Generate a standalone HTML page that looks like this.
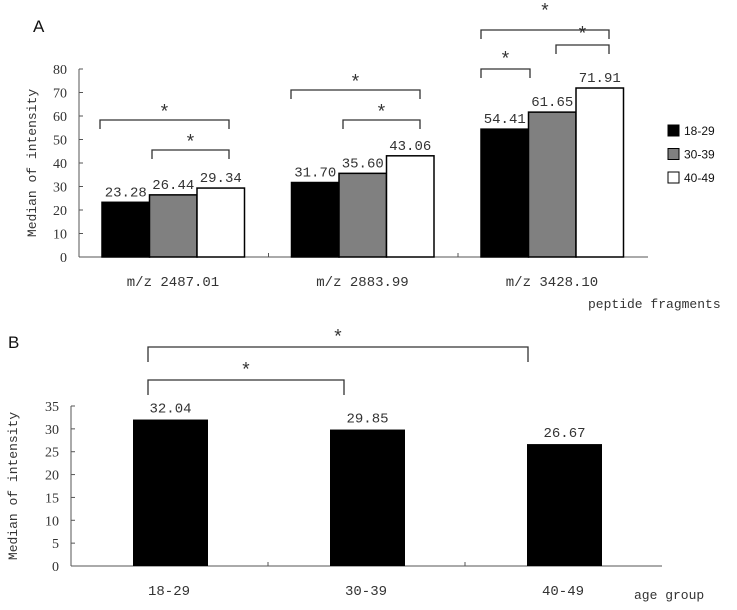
<!DOCTYPE html>
<html><head><meta charset="utf-8"><style>
body{margin:0;background:#fff}
svg text{font-family:"Liberation Mono","DejaVu Sans Mono",monospace;fill:#333}
</style></head><body>
<svg width="737" height="605" xmlns="http://www.w3.org/2000/svg">
<g id="A"></g>
<g id="B"></g>
</svg>
<script>
const catsA=["m/z 2487.01","m/z 2883.99","m/z 3428.10"];
const s1829=[23.28,31.70,54.41];
const s3039=[26.44,35.60,61.65];
const s4049=[29.34,43.06,71.91];
const ticksA=[0,10,20,30,40,50,60,70,80];
const catsB=["18-29","30-39","40-49"];
const valsB=[32.04,29.85,26.67];
const ticksB=[0,5,10,15,20,25,30,35];
const NS="http://www.w3.org/2000/svg";
function mk(p,t,a,txt){const e=document.createElementNS(NS,t);for(const k in a)e.setAttribute(k,a[k]);if(txt!==undefined)e.textContent=txt;p.appendChild(e);return e;}
const A=document.getElementById('A'),B=document.getElementById('B');
// Panel A
const yA=v=>257-v*(188/80);
const bandA=i=>79+i*189.5;
let e=mk(A,'text',{x:33,y:32,style:'font-family:Liberation Sans;font-size:17px;fill:#111'},'A');

e=mk(A,'line',{x1:79,y1:yA(80),x2:79,y2:257,stroke:'#555'});

e=mk(A,'line',{x1:79,y1:257,x2:648,y2:257,stroke:'#555'});

ticksA.forEach(t=>{mk(A,'line',{x1:79,y1:yA(t),x2:83,y2:yA(t),stroke:'#555'});
 e=mk(A,'text',{x:67,y:yA(t)+5,'text-anchor':'end','font-size':'14',style:'font-family:Liberation Serif'},t);
 });
[1,2].forEach(i=>mk(A,'line',{x1:bandA(i),y1:253,x2:bandA(i),y2:257,stroke:'#555'}));
e=mk(A,'text',{transform:'translate(36,163) rotate(-90)','text-anchor':'middle','font-size':'13'},'Median of intensity');

const series=[[s1829,'#000'],[s3039,'#808080'],[s4049,'#fff']];
catsA.forEach((c,i)=>{
 series.forEach(([s,f],j)=>{const x=bandA(i)+23+j*47.5;
  e=mk(A,'rect',{x:x,y:yA(s[i]),width:47.5,height:257-yA(s[i]),fill:f,stroke:'#000','stroke-width':1.5});
  
  e=mk(A,'text',{x:x+23.75,y:yA(s[i])-6,'text-anchor':'middle','font-size':'14'},s[i].toFixed(2));
  });
 e=mk(A,'text',{x:bandA(i)+94,y:286,'text-anchor':'middle','font-size':'14'},c);
 });
e=mk(A,'text',{x:588,y:308,'font-size':'13'},'peptide fragments');

function bracket(g,x1,x2,y,d,sy){mk(g,'path',{d:`M${x1},${y+d}V${y}H${x2}V${y+d}`,fill:'none',stroke:'#333','stroke-width':1.3});
 e=mk(g,'text',{x:(x1+x2)/2,y:sy+3,'text-anchor':'middle','font-size':'19'},'*');
 }
bracket(A,100,229,120,9,115);bracket(A,152,229,150,9,145);
bracket(A,291,420,90,9,85);bracket(A,343,420,120,9,115);
bracket(A,481,609,30,9,14);bracket(A,481,530,69,9,62);bracket(A,556,609,45,9,37);
[["18-29",'#000'],["30-39",'#808080'],["40-49",'#fff']].forEach(([l,f],j)=>{
 const y=125+j*23.5;
 e=mk(A,'rect',{x:668,y:y,width:11,height:11,fill:f,stroke:'#000'});
 
 e=mk(A,'text',{x:684,y:y+10,'font-size':'12',style:'font-family:Liberation Sans;fill:#111'},l);
 });
// Panel B
const yB=v=>566-v*(160/35);
const bandB=i=>71+i*197;
e=mk(B,'text',{x:8,y:348,style:'font-family:Liberation Sans;font-size:17px;fill:#111'},'B');

e=mk(B,'line',{x1:71,y1:yB(35),x2:71,y2:566,stroke:'#555'});

e=mk(B,'line',{x1:71,y1:566,x2:662,y2:566,stroke:'#555'});

ticksB.forEach(t=>{mk(B,'line',{x1:71,y1:yB(t),x2:75,y2:yB(t),stroke:'#555'});
 e=mk(B,'text',{x:59,y:yB(t)+5,'text-anchor':'end','font-size':'14',style:'font-family:Liberation Serif'},t);
 });
[1,2].forEach(i=>mk(B,'line',{x1:bandB(i),y1:562,x2:bandB(i),y2:566,stroke:'#555'}));
e=mk(B,'text',{transform:'translate(17,486) rotate(-90)','text-anchor':'middle','font-size':'13'},'Median of intensity');

catsB.forEach((c,i)=>{const x=bandB(i)+62;
 e=mk(B,'rect',{x:x,y:yB(valsB[i]),width:75,height:566-yB(valsB[i]),fill:'#000'});
 
 e=mk(B,'text',{x:x+37.5,y:yB(valsB[i])-7,'text-anchor':'middle','font-size':'14'},valsB[i].toFixed(2));
 
 e=mk(B,'text',{x:bandB(i)+98,y:595,'text-anchor':'middle','font-size':'14'},c);
 });
e=mk(B,'text',{x:634,y:599,'font-size':'13'},'age group');

bracket(B,148,528,347,15,340);bracket(B,148,344,380,15,373);
</script>
</body></html>
